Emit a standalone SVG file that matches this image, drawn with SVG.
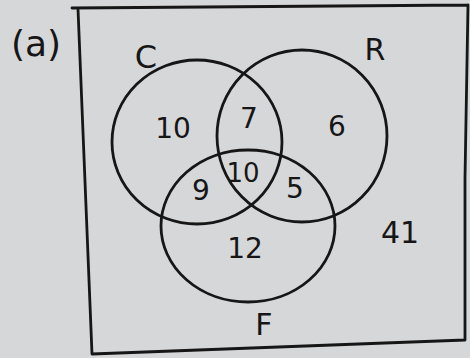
<svg xmlns="http://www.w3.org/2000/svg" width="470" height="358" viewBox="0 0 470 358">
<style>
.ln{fill:none;stroke:#161616;stroke-width:2.8;stroke-linecap:round;stroke-linejoin:round}
.t{font-family:"DejaVu Sans","Liberation Sans",sans-serif;fill:#161616;text-anchor:middle}
</style>
<rect x="0" y="0" width="470" height="358" fill="#d6d7d9"/>
<g id="label-a"><text class="t" x="36" y="56" font-size="36">(a)</text></g>
<g id="universe">
<path class="ln" d="M72 8 L468 5 M78 9 L92 354 L465 340 L465 178 L468 5"/>
<text class="t" x="400" y="243" font-size="30">41</text>
</g>
<g id="set-C">
<ellipse class="ln" cx="197" cy="142" rx="85" ry="82"/>
<text class="t" x="146" y="68" font-size="32">C</text>
</g>
<g id="set-R">
<ellipse class="ln" cx="302" cy="136" rx="85" ry="86"/>
<text class="t" x="375" y="60" font-size="30">R</text>
</g>
<g id="set-F">
<ellipse class="ln" cx="248" cy="226" rx="87" ry="76"/>
<text class="t" x="264" y="335" font-size="30">F</text>
</g>
<g id="regions">
<text class="t" x="173" y="138" font-size="28">10</text>
<text class="t" x="249" y="128" font-size="28">7</text>
<text class="t" x="337" y="136" font-size="28">6</text>
<text class="t" x="243" y="182" font-size="26">10</text>
<text class="t" x="201" y="200" font-size="28">9</text>
<text class="t" x="295" y="198" font-size="28">5</text>
<text class="t" x="245" y="258" font-size="28">12</text>
</g>
</svg>
